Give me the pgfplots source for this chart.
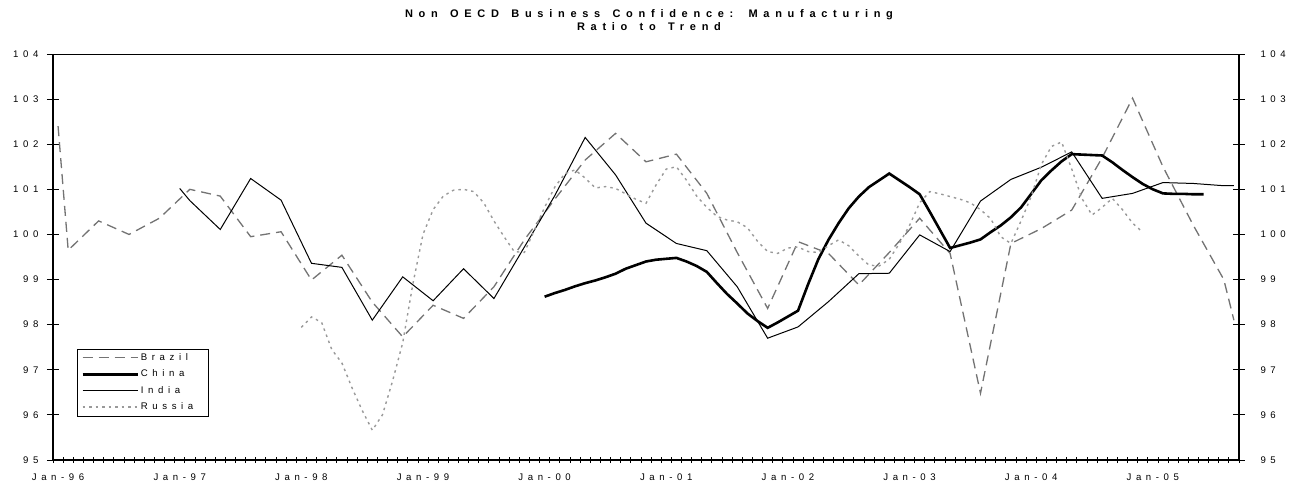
\documentclass[border=0pt]{standalone}
\usepackage{fontspec}
\setmainfont{Liberation Sans}[LetterSpace=48]
\newfontfamily\titlefont{Liberation Sans}[LetterSpace=52, WordSpace=1.4]
\usepackage{pgfplots}
\pgfplotsset{compat=1.18}
\definecolor{brz}{gray}{0.45}
\definecolor{rus}{gray}{0.6}
\begin{document}
\begin{tikzpicture}
\useasboundingbox (-53pt,-27pt) rectangle (1244pt,460pt);
\begin{axis}[
  name=ax,
  scale only axis, width=1186pt, height=406pt,
  xmin=-0.5, xmax=116.5, ymin=95, ymax=104,
  axis line style={line width=0.8pt},
  /pgf/number format/assume math mode=true,
  tick label style={font=\fontsize{9.6}{11}\selectfont},
  xtick={0,12,24,36,48,60,72,84,96,108},
  xticklabels={Jan-96,Jan-97,Jan-98,Jan-99,Jan-00,Jan-01,Jan-02,Jan-03,Jan-04,Jan-05},
  major x tick style={draw=none},
  minor xtick={-0.5,0.5,...,116.5},
  minor tick length=6pt,
  major tick length=12pt,
  tick align=center,
  tick style={black, line width=0.8pt},
  xtick pos=bottom, ytick pos=left,
  ytick={95,96,...,104},
  xticklabel style={anchor=base, yshift=-14pt},
  yticklabel style={anchor=east, xshift=-5pt},
  legend style={at={(axis description cs:0.0202,0.108)}, anchor=south west,
    draw=black, line width=0.6pt, font=\fontsize{9.6}{11}\selectfont,
    inner xsep=4pt, inner ysep=2.5pt, row sep=4pt, legend cell align=left},
  legend image code/.code={\draw[#1] (0pt,0pt) -- (55pt,0pt);},
]
\addplot[brz, line width=1.3pt, dash pattern=on 10pt off 6pt] coordinates {
(0,102.4)(1,99.65)(4,100.30)(7,100.0)(10,100.36)(13,101.0)(16,100.85)(19,99.95)(22,100.06)(25,98.99)(28,99.54)(31,98.5)(34,97.73)(37,98.43)(40,98.14)(43,98.84)(46,99.88)(49,100.78)(52,101.65)(55,102.24)(58,101.61)(61,101.78)(64,100.91)(67,99.6)(70,98.36)(73,99.84)(76,99.58)(79,98.88)(82,99.6)(85,100.36)(88,99.58)(91,96.48)(94,99.80)(97,100.13)(100,100.54)(103,101.7)(106,103.02)(109,101.5)(112,100.2)(115,99.0)(116,98.1)
};
\addlegendentry{Brazil}
\addplot[black, line width=2.6pt] coordinates {
(48,98.62)(49,98.70)(50,98.77)(51,98.85)(52,98.92)(53,98.98)(54,99.05)(55,99.13)(56,99.24)(57,99.32)(58,99.40)(59,99.44)(60,99.46)(61,99.48)(62,99.40)(63,99.30)(64,99.17)(65,98.92)(66,98.68)(67,98.47)(68,98.25)(69,98.08)(70,97.93)(71,98.05)(72,98.18)(73,98.31)(74,98.9)(75,99.45)(76,99.88)(77,100.25)(78,100.58)(79,100.84)(80,101.05)(81,101.2)(82,101.35)(83,101.2)(84,101.05)(85,100.89)(86,100.5)(87,100.1)(88,99.70)(89,99.76)(90,99.82)(91,99.89)(92,100.05)(93,100.2)(94,100.38)(95,100.6)(96,100.9)(97,101.2)(98,101.42)(99,101.62)(100,101.78)(101,101.77)(102,101.76)(103,101.75)(104,101.6)(105,101.43)(106,101.27)(107,101.12)(108,101.0)(109,100.91)(110,100.9)(111,100.9)(112,100.89)(113,100.89)
};
\addlegendentry{China}
\addplot[black, line width=1pt] coordinates {
(12,101.02)(13,100.75)(16,100.11)(19,101.24)(22,100.76)(25,99.36)(28,99.27)(31,98.10)(34,99.06)(37,98.53)(40,99.24)(43,98.58)(46,99.72)(49,100.86)(52,102.15)(55,101.32)(58,100.25)(61,99.80)(64,99.64)(67,98.84)(70,97.70)(73,97.95)(76,98.51)(79,99.13)(82,99.14)(85,99.99)(88,99.62)(91,100.74)(94,101.22)(97,101.49)(100,101.83)(103,100.80)(106,100.91)(109,101.15)(112,101.13)(115,101.08)(116,101.08)
};
\addlegendentry{India}
\addplot[rus, line width=1.4pt, dash pattern=on 2.5pt off 4pt] coordinates {
(24,97.94)(25,98.17)(26,98.05)(27,97.45)(28,97.15)(29,96.6)(30,96.1)(31,95.66)(32,96.0)(33,96.75)(34,97.6)(35,98.9)(36,100.0)(37,100.55)(38,100.85)(39,100.98)(40,101.0)(41,100.95)(42,100.7)(43,100.3)(44,99.95)(45,99.62)(46,99.6)(47,100.1)(48,100.6)(49,101.05)(50,101.35)(51,101.43)(52,101.25)(53,101.03)(54,101.06)(55,101.02)(56,100.9)(57,100.78)(58,100.69)(59,101.1)(60,101.45)(61,101.5)(62,101.2)(63,100.85)(64,100.6)(65,100.4)(66,100.32)(67,100.28)(68,100.15)(69,99.85)(70,99.62)(71,99.58)(72,99.7)(73,99.72)(74,99.62)(75,99.6)(76,99.75)(77,99.88)(78,99.75)(79,99.52)(80,99.32)(81,99.3)(82,99.45)(83,99.8)(84,100.2)(85,100.7)(86,100.95)(87,100.9)(88,100.84)(89,100.78)(90,100.7)(91,100.55)(92,100.35)(93,99.95)(94,99.8)(95,100.3)(96,100.84)(97,101.55)(98,101.95)(99,102.05)(100,101.45)(101,100.8)(102,100.43)(103,100.6)(104,100.8)(105,100.55)(106,100.25)(107,100.05)
};
\addlegendentry{Russia\hspace*{9pt}}
\end{axis}
\begin{axis}[
  scale only axis, width=1186pt, height=406pt,
  xmin=-0.5, xmax=116.5, ymin=95, ymax=104,
  axis x line=none, axis y line*=right,
  axis line style={line width=0.8pt},
  /pgf/number format/assume math mode=true,
  tick label style={font=\fontsize{9.6}{11}\selectfont},
  ytick={95,96,...,104}, major tick length=12pt, tick align=center,
  tick style={black, line width=0.8pt},
  yticklabel style={anchor=west, xshift=12pt},
]
\addplot[draw=none] coordinates {(0,100)};
\end{axis}
\draw[line width=1.8pt] (ax.north west) -- (ax.south west) -- (ax.south east) -- (ax.north east);
\node[anchor=base, font=\titlefont\bfseries\fontsize{11}{13}\selectfont] at ([xshift=3pt,yshift=36.5pt]ax.north) {Non OECD Business Confidence: Manufacturing};
\node[anchor=base, font=\titlefont\bfseries\fontsize{11}{13}\selectfont] at ([xshift=3pt,yshift=23.5pt]ax.north) {Ratio to Trend};
\end{tikzpicture}
\end{document}
